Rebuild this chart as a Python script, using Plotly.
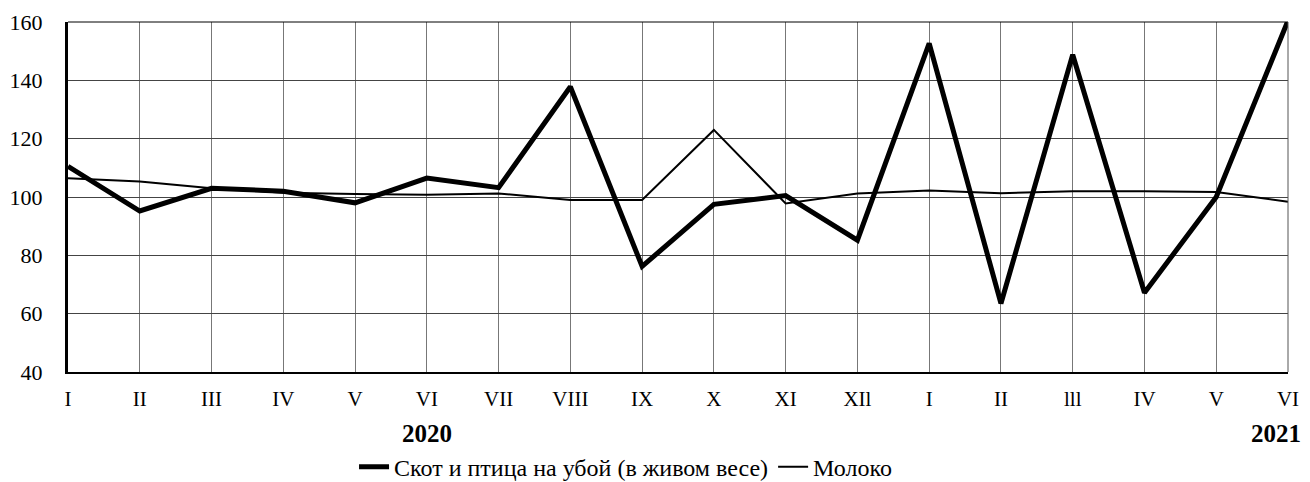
import plotly.graph_objects as go

months = ["I", "II", "III", "IV", "V", "VI", "VII", "VIII", "IX", "X", "XI", "XIl",
          "I", "II", "lll", "IV", "V", "VI"]
livestock = [110.5, 95.2, 103.0, 102.0, 98.0, 106.5, 103.2, 137.8, 76.2, 97.5, 100.5, 85.2,
             152.7, 63.5, 148.8, 67.2, 100.0, 160.5]
milk = [106.4, 105.3, 103.0, 101.5, 101.0, 100.8, 101.2, 99.0, 99.0, 123.0, 97.8, 101.2,
        102.2, 101.3, 102.0, 102.0, 101.7, 98.4]
years = ["2020", "2021"]
year_pos = [5, 17]
year_anchor = ["center", "right"]
year_xshift = [0, 15]
series_names = ["Скот и птица на убой (в живом весе)", "Молоко"]

x = list(range(len(months)))
font = "Liberation Serif, Times New Roman, serif"

fig = go.Figure()
fig.add_trace(go.Scatter(x=x, y=livestock, mode="lines", name=series_names[0],
                         line=dict(color="black", width=5), cliponaxis=False))
fig.add_trace(go.Scatter(x=x, y=milk, mode="lines", name=series_names[1],
                         line=dict(color="black", width=2), cliponaxis=False))

for yr, pos, anc, xs in zip(years, year_pos, year_anchor, year_xshift):
    fig.add_annotation(x=pos, y=0, xref="x", yref="paper", text="<b>" + yr + "</b>",
                       showarrow=False, xanchor=anc, yanchor="middle", yshift=-61, xshift=xs,
                       font=dict(family=font, size=25, color="black"))

fig.update_layout(
    width=1302, height=474,
    margin=dict(l=60, r=22, t=14, b=110, autoexpand=False),
    plot_bgcolor="white", paper_bgcolor="white",
    font=dict(family=font, color="black"),
    showlegend=True,
    legend=dict(orientation="h", x=0.457, xanchor="center", y=-0.272, yanchor="middle",
                font=dict(family=font, size=24, color="black"), traceorder="normal",
                tracegroupgap=0),
    xaxis=dict(range=[0, 17], tickmode="array", tickvals=x, ticktext=months,
               showgrid=True, gridcolor="#777777", gridwidth=1, automargin=False,
               showline=True, linecolor="black", linewidth=2, mirror=False,
               ticks="", ticklabelstandoff=7,
               tickfont=dict(family=font, size=21, color="black"), zeroline=False),
    yaxis=dict(range=[40, 160], tickmode="array", tickvals=[40, 60, 80, 100, 120, 140, 160],
               showgrid=True, gridcolor="#444444", gridwidth=1, automargin=False,
               showline=True, linecolor="black", linewidth=3,
               ticks="", ticklabelstandoff=18, tickfont=dict(family=font, size=22, color="black"),
               zeroline=False),
)
fig.add_shape(type="line", xref="paper", yref="paper", x0=0, x1=1, y0=1, y1=1,
              line=dict(color="black", width=1))
fig.add_shape(type="line", xref="paper", yref="paper", x0=1, x1=1, y0=0, y1=1,
              line=dict(color="#555555", width=1))

fig.write_html("out.html")
